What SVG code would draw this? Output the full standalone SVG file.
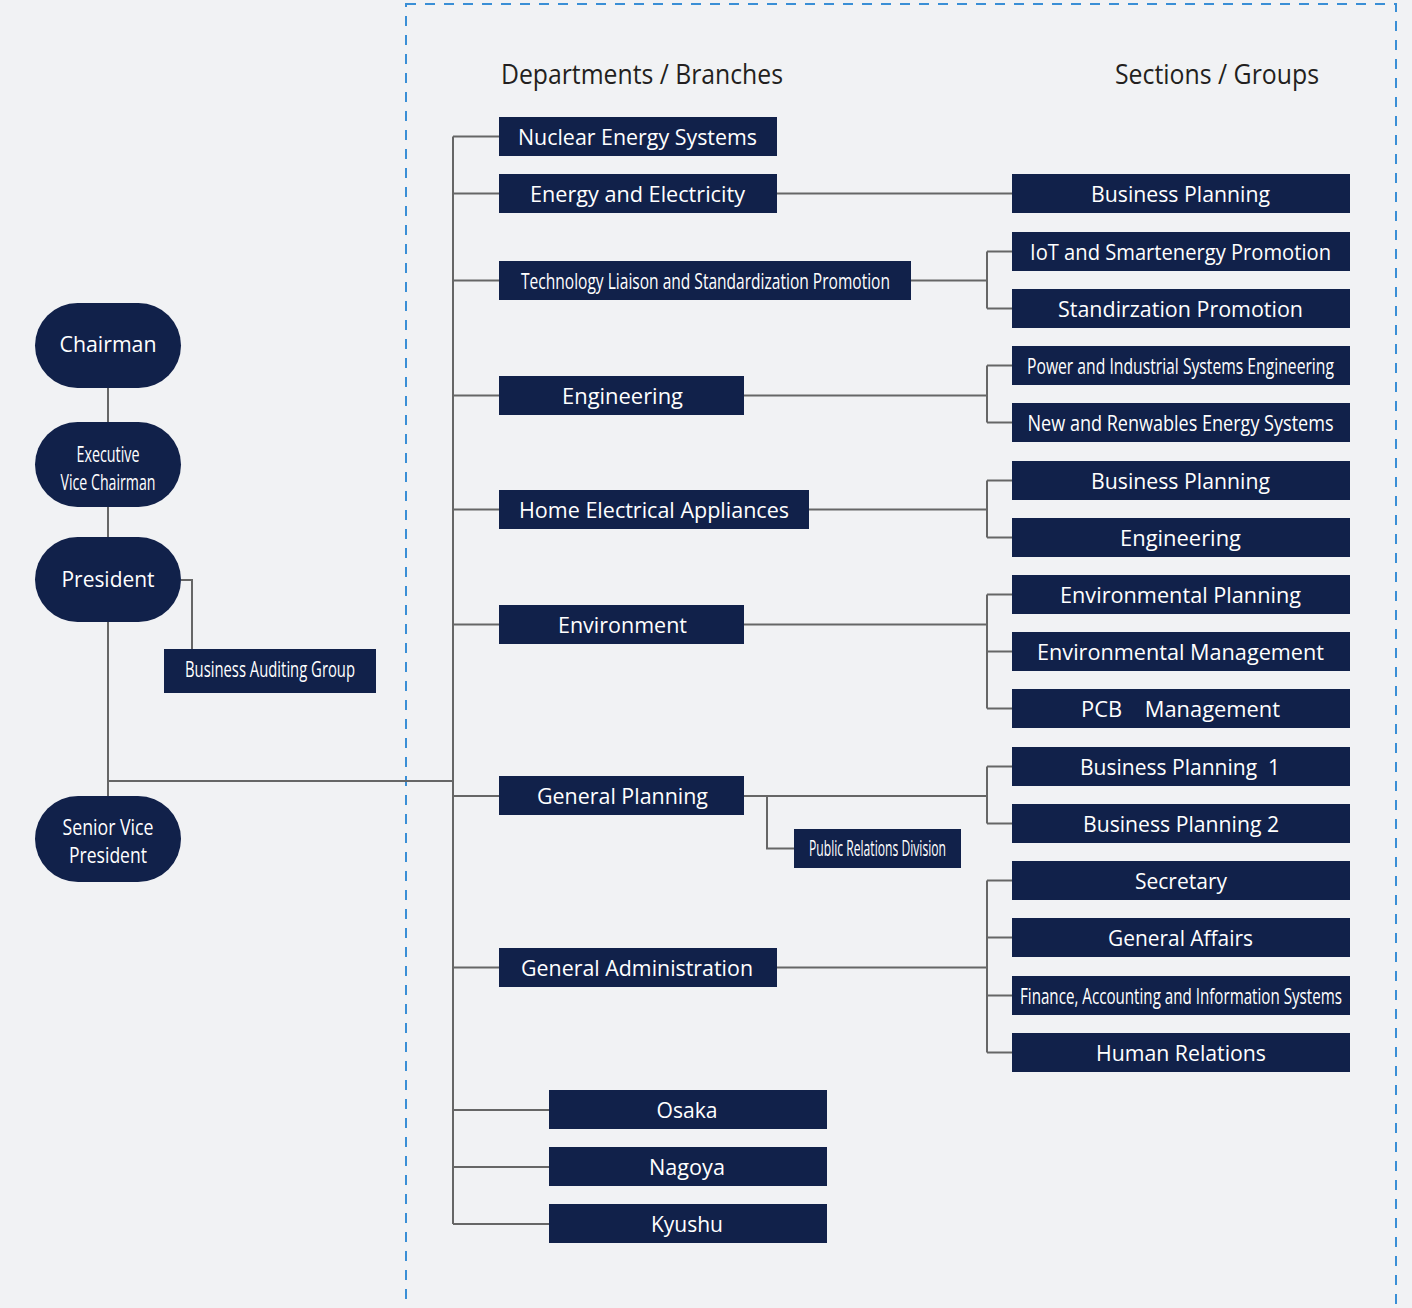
<svg xmlns="http://www.w3.org/2000/svg" width="1412" height="1308" viewBox="0 0 1412 1308">
<style>
.bg{fill:#f1f2f4}
.box{fill:#11214a}
.t{fill:#ffffff;font-family:"Open Sans","Noto Sans","Liberation Sans",sans-serif;font-size:22px;text-anchor:middle}
.tc{fill:#ffffff;font-family:"Open Sans","Noto Sans","Liberation Sans",sans-serif;font-size:21px;text-anchor:middle}
.h{fill:#231f20;font-family:"Open Sans","Noto Sans","Liberation Sans",sans-serif;font-size:28px}
.ln{fill:none;stroke:#666666;stroke-width:2}
.frame{fill:none;stroke:#3a8fd6;stroke-width:2;stroke-dasharray:10 9}
</style>
<rect class="bg" x="0" y="0" width="1412" height="1308"/>
<rect class="frame" x="406" y="4" width="990" height="1320"/>
<text class="h" x="501" y="84" textLength="282" lengthAdjust="spacingAndGlyphs">Departments / Branches</text>
<text class="h" x="1115" y="84" textLength="204" lengthAdjust="spacingAndGlyphs">Sections / Groups</text>

<g id="connectors">
<path class="ln" d="M108 388V422M108 507V537M108 622V796M181 580H192V649M108 781H453"/>
<path class="ln" d="M453 136.5V1224M453 136.5H499M453 193.5H499M453 280.5H499M453 395.5H499M453 509.5H499M453 624.5H499M453 796H499M453 967.5H499M453 1110H549M453 1167H549M453 1224H549"/>
<path class="ln" d="M777 193.5H1012"/>
<path class="ln" d="M911 280.5H987M987 251.5V308.5M987 251.5H1012M987 308.5H1012"/>
<path class="ln" d="M744 395.5H987M987 365.5V422.5M987 365.5H1012M987 422.5H1012"/>
<path class="ln" d="M809 509.5H987M987 480.5V537.5M987 480.5H1012M987 537.5H1012"/>
<path class="ln" d="M744 624.5H987M987 594.5V708.5M987 594.5H1012M987 651.5H1012M987 708.5H1012"/>
<path class="ln" d="M744 796H987M987 766.5V823.5M987 766.5H1012M987 823.5H1012M767 796V848.5H794"/>
<path class="ln" d="M777 967.5H987M987 880.5V1052.5M987 880.5H1012M987 937.5H1012M987 995.5H1012M987 1052.5H1012"/>
</g>

<g id="chairman"><rect class="box" x="35" y="303" width="146" height="85" rx="42.5"/><text class="t" x="108" y="352" textLength="97" lengthAdjust="spacingAndGlyphs">Chairman</text></g>
<g id="exec-vice-chairman"><rect class="box" x="35" y="422" width="146" height="85" rx="42.5"/><text class="tc" x="108" y="462" textLength="63" lengthAdjust="spacingAndGlyphs">Executive</text><text class="tc" x="108" y="490" textLength="95" lengthAdjust="spacingAndGlyphs">Vice Chairman</text></g>
<g id="president"><rect class="box" x="35" y="537" width="146" height="85" rx="42.5"/><text class="t" x="108" y="587" textLength="93" lengthAdjust="spacingAndGlyphs">President</text></g>
<g id="business-auditing"><rect class="box" x="164" y="649" width="212" height="44"/><text class="tc" x="270" y="677" textLength="170" lengthAdjust="spacingAndGlyphs">Business Auditing Group</text></g>
<g id="senior-vp"><rect class="box" x="35" y="796" width="146" height="86" rx="43"/><text class="tc" x="108" y="835" textLength="91" lengthAdjust="spacingAndGlyphs">Senior Vice</text><text class="tc" x="108" y="863" textLength="78" lengthAdjust="spacingAndGlyphs">President</text></g>

<g id="nuclear"><rect class="box" x="499" y="117" width="278" height="39"/><text class="t" x="637.5" y="144.5" textLength="239" lengthAdjust="spacingAndGlyphs">Nuclear Energy Systems</text></g>
<g id="energy"><rect class="box" x="499" y="174" width="278" height="39"/><text class="t" x="637.5" y="201.5" textLength="215" lengthAdjust="spacingAndGlyphs">Energy and Electricity</text></g>
<g id="tech-liaison"><rect class="box" x="499" y="261" width="412" height="39"/><text class="tc" x="705.5" y="288.5" textLength="369" lengthAdjust="spacingAndGlyphs">Technology Liaison and Standardization Promotion</text></g>
<g id="engineering"><rect class="box" x="499" y="376" width="245" height="39"/><text class="t" x="622.5" y="403.5" textLength="121" lengthAdjust="spacingAndGlyphs">Engineering</text></g>
<g id="home-appliances"><rect class="box" x="499" y="490" width="310" height="39"/><text class="t" x="654" y="517.5" textLength="270" lengthAdjust="spacingAndGlyphs">Home Electrical Appliances</text></g>
<g id="environment"><rect class="box" x="499" y="605" width="245" height="39"/><text class="t" x="622.5" y="632.5" textLength="129" lengthAdjust="spacingAndGlyphs">Environment</text></g>
<g id="general-planning"><rect class="box" x="499" y="776" width="245" height="39"/><text class="t" x="622.5" y="803.5" textLength="171" lengthAdjust="spacingAndGlyphs">General Planning</text></g>
<g id="public-relations"><rect class="box" x="794" y="829" width="167" height="39"/><text class="tc" x="877.5" y="855.5" font-size="19" textLength="137" lengthAdjust="spacingAndGlyphs">Public Relations Division</text></g>
<g id="general-admin"><rect class="box" x="499" y="948" width="278" height="39"/><text class="t" x="637" y="975.5" textLength="232" lengthAdjust="spacingAndGlyphs">General Administration</text></g>
<g id="osaka"><rect class="box" x="549" y="1090" width="278" height="39"/><text class="tc" x="687" y="1117.5" textLength="61" lengthAdjust="spacingAndGlyphs">Osaka</text></g>
<g id="nagoya"><rect class="box" x="549" y="1147" width="278" height="39"/><text class="tc" x="687" y="1174.5" textLength="76" lengthAdjust="spacingAndGlyphs">Nagoya</text></g>
<g id="kyushu"><rect class="box" x="549" y="1204" width="278" height="39"/><text class="tc" x="687" y="1231.5" textLength="72" lengthAdjust="spacingAndGlyphs">Kyushu</text></g>

<g id="s-business-planning-1"><rect class="box" x="1012" y="174" width="338" height="39"/><text class="t" x="1180.5" y="201.5" textLength="179" lengthAdjust="spacingAndGlyphs">Business Planning</text></g>
<g id="s-iot"><rect class="box" x="1012" y="232" width="338" height="39"/><text class="t" x="1180.5" y="259.5" textLength="301" lengthAdjust="spacingAndGlyphs">IoT and Smartenergy Promotion</text></g>
<g id="s-standardization"><rect class="box" x="1012" y="289" width="338" height="39"/><text class="t" x="1180.5" y="316.5" textLength="245" lengthAdjust="spacingAndGlyphs">Standirzation Promotion</text></g>
<g id="s-power"><rect class="box" x="1012" y="346" width="338" height="39"/><text class="tc" x="1180.5" y="373.5" textLength="307" lengthAdjust="spacingAndGlyphs">Power and Industrial Systems Engineering</text></g>
<g id="s-renewables"><rect class="box" x="1012" y="403" width="338" height="39"/><text class="tc" x="1180.5" y="430.5" textLength="306" lengthAdjust="spacingAndGlyphs">New and Renwables Energy Systems</text></g>
<g id="s-business-planning-2"><rect class="box" x="1012" y="461" width="338" height="39"/><text class="t" x="1180.5" y="488.5" textLength="179" lengthAdjust="spacingAndGlyphs">Business Planning</text></g>
<g id="s-engineering"><rect class="box" x="1012" y="518" width="338" height="39"/><text class="t" x="1180.5" y="545.5" textLength="121" lengthAdjust="spacingAndGlyphs">Engineering</text></g>
<g id="s-env-planning"><rect class="box" x="1012" y="575" width="338" height="39"/><text class="t" x="1180.5" y="602.5" textLength="241" lengthAdjust="spacingAndGlyphs">Environmental Planning</text></g>
<g id="s-env-management"><rect class="box" x="1012" y="632" width="338" height="39"/><text class="t" x="1180.5" y="659.5" textLength="287" lengthAdjust="spacingAndGlyphs">Environmental Management</text></g>
<g id="s-pcb"><rect class="box" x="1012" y="689" width="338" height="39"/><text class="t" x="1180.5" y="716.5" textLength="199" lengthAdjust="spacingAndGlyphs" xml:space="preserve" style="white-space:pre">PCB    Management</text></g>
<g id="s-bp1"><rect class="box" x="1012" y="747" width="338" height="39"/><text class="t" x="1180" y="774.5" textLength="200" lengthAdjust="spacingAndGlyphs" xml:space="preserve" style="white-space:pre">Business Planning  1</text></g>
<g id="s-bp2"><rect class="box" x="1012" y="804" width="338" height="39"/><text class="t" x="1181" y="831.5" textLength="196" lengthAdjust="spacingAndGlyphs">Business Planning 2</text></g>
<g id="s-secretary"><rect class="box" x="1012" y="861" width="338" height="39"/><text class="t" x="1181" y="888.5" textLength="92" lengthAdjust="spacingAndGlyphs">Secretary</text></g>
<g id="s-general-affairs"><rect class="box" x="1012" y="918" width="338" height="39"/><text class="t" x="1180.5" y="945.5" textLength="145" lengthAdjust="spacingAndGlyphs">General Affairs</text></g>
<g id="s-finance"><rect class="box" x="1012" y="976" width="338" height="39"/><text class="tc" x="1181" y="1003.5" textLength="322" lengthAdjust="spacingAndGlyphs">Finance, Accounting and Information Systems</text></g>
<g id="s-human-relations"><rect class="box" x="1012" y="1033" width="338" height="39"/><text class="t" x="1181" y="1060.5" textLength="170" lengthAdjust="spacingAndGlyphs">Human Relations</text></g>
</svg>
